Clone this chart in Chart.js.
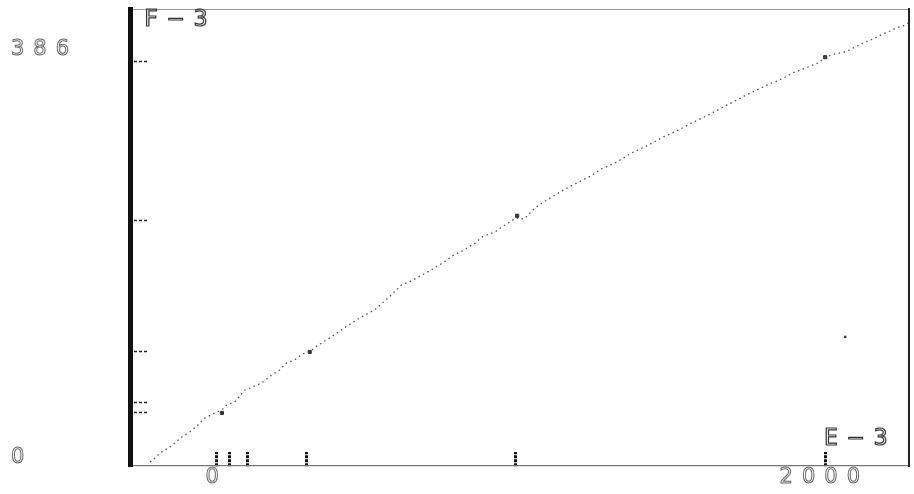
<!DOCTYPE html>
<html>
<head>
<meta charset="utf-8">
<script src="https://cdn.jsdelivr.net/npm/chart.js@4.4.1/dist/chart.umd.min.js"></script>
<style>
  html, body { margin: 0; padding: 0; background: #fff; overflow: hidden; }
  canvas { display: block; }
</style>
</head>
<body>
<canvas id="c" width="914" height="494"></canvas>
<script>
// Calibration curve: measured response against input
const curveX = [-207, -197, -174, -141, -125, -102, -76, -49, -26, 7, 30, 46, 72, 105, 122, 161, 194, 220, 243, 269, 296, 319, 338, 384, 433, 483, 532, 581, 621, 654, 683, 713, 762, 788, 821, 864, 887, 929, 952, 998, 1025, 1061, 1090, 1149, 1179, 1212, 1245, 1278, 1294, 1330, 1379, 1435, 1484, 1534, 1583, 1632, 1681, 1731, 1770, 1813, 1832, 1852, 1885, 1908, 1951, 1994, 2016, 2049, 2082, 2102, 2141, 2174, 2207, 2230, 2250, 2273, 2289];
const curveY = [-1.9, 0, 6.6, 12.3, 16.1, 21.8, 26.5, 33.1, 39.7, 44.5, 47.3, 52.0, 54.9, 66.2, 68.1, 72.8, 80.4, 85.1, 91.8, 94.6, 100.3, 102.2, 106.9, 115.4, 124.9, 134.3, 141.9, 154.2, 165.6, 169.3, 174.1, 178.8, 187.3, 193.0, 197.7, 205.3, 211.0, 215.7, 220.4, 228.9, 228.0, 238.4, 244.1, 254.5, 259.2, 263.9, 268.7, 275.3, 277.2, 281.9, 290.4, 298.0, 305.6, 312.2, 319.7, 326.4, 333.9, 341.5, 347.2, 352.9, 355.7, 357.6, 362.3, 366.1, 370.8, 375.6, 381.2, 384.1, 386.0, 388.8, 394.5, 398.3, 403.0, 405.8, 408.7, 410.6, 413.4];

// Reference points along the curve
const markX = [30, 319, 1002, 2016];
const markY = [44.5, 102.2, 231, 381];

// Isolated reading
const strayX = [2082];
const strayY = [116.4];

// Tick marks on the axes
const xTickMarks = [13, 56, 115, 309, 998, 2016];
const yTickMarks = [376.5, 226.1, 102.2, 53.9, 44.5];

// Axis labels
const xTickValues = [0, 2000];
const xTickLabels = ['0', '2000'];
const yTickValues = [0, 386];
const yTickLabels = ['0', '386'];

// Panel captions
const panelLabels = ['F\u20143', 'E\u20143'];

const toPoints = (xs, ys) => xs.map((v, i) => ({ x: v, y: ys[i] }));

const bgPlugin = {
  id: 'bg',
  beforeDraw(chart) {
    const ctx = chart.ctx;
    ctx.save();
    ctx.fillStyle = '#fff';
    ctx.fillRect(0, 0, chart.width, chart.height);
    ctx.restore();
  }
};

const textPlugin = {
  id: 'outlineText',
  afterDraw(chart) {
    const { ctx } = chart;
    const x = chart.scales.x, y = chart.scales.y;
    ctx.save();
    ctx.font = '21px "DejaVu Sans"';
    ctx.letterSpacing = '9px';
    ctx.strokeStyle = '#666';
    ctx.lineWidth = 1;
    ctx.textBaseline = 'middle';
    ctx.textAlign = 'left';
    yTickValues.forEach((v, i) => ctx.strokeText(yTickLabels[i], 11, y.getPixelForValue(v) - 2));
    ctx.textAlign = 'center';
    xTickValues.forEach((v, i) => ctx.strokeText(xTickLabels[i], x.getPixelForValue(v) + 4, 478));

    ctx.font = '23px "DejaVu Sans Mono"';
    ctx.letterSpacing = '11px';
    ctx.textAlign = 'left';
    ctx.strokeStyle = '#333';
    ctx.lineWidth = 1.2;
    ctx.strokeText(panelLabels[0], 144, 20);
    ctx.strokeText(panelLabels[1], 824, 439);
    ctx.restore();
  }
};

new Chart(document.getElementById('c'), {
  type: 'scatter',
  data: {
    datasets: [
      {
        data: toPoints(curveX, curveY),
        showLine: true,
        borderColor: '#555',
        borderWidth: 1.3,
        borderDash: [1.5, 3.5],
        pointRadius: 0,
        tension: 0
      },
      {
        data: toPoints(markX, markY),
        pointStyle: 'rect',
        pointRadius: 2.2,
        backgroundColor: '#333',
        borderColor: '#333',
        borderWidth: 1
      },
      {
        data: toPoints(strayX, strayY),
        pointRadius: 1.3,
        backgroundColor: '#333',
        borderWidth: 0
      }
    ]
  },
  options: {
    responsive: false,
    animation: false,
    devicePixelRatio: 1,
    layout: { padding: { top: 9, right: 3, left: 0, bottom: 0 } },
    plugins: { legend: { display: false }, tooltip: { enabled: false } },
    scales: {
      x: {
        type: 'linear',
        position: 'bottom',
        min: -272.6,
        max: 2292,
        afterBuildTicks: (s) => { s.ticks = xTickMarks.map(v => ({ value: v })); },
        afterFit: (s) => { s.height = 28; },
        ticks: { display: false, autoSkip: false },
        grid: {
          display: true,
          drawOnChartArea: false,
          drawTicks: true,
          tickLength: -14,
          tickWidth: 3,
          tickColor: '#111',
          tickBorderDash: [3, 1]
        },
        border: { display: true, color: '#777', width: 1.3, dash: [2, 3] }
      },
      xTop: {
        type: 'linear',
        position: 'top',
        min: 0,
        max: 1,
        afterFit: (s) => { s.height = 0; },
        ticks: { display: false },
        grid: { display: false },
        border: { display: true, color: '#999', width: 1, dash: [2, 4] }
      },
      y: {
        type: 'linear',
        position: 'left',
        min: -5.7,
        max: 426.6,
        afterBuildTicks: (s) => { s.ticks = yTickMarks.map(v => ({ value: v })); },
        afterFit: (s) => { s.width = 130; },
        ticks: { display: false, autoSkip: false },
        grid: {
          display: true,
          drawOnChartArea: false,
          drawTicks: true,
          tickLength: -17,
          tickWidth: 1.5,
          tickColor: '#222',
          tickBorderDash: [3, 2]
        },
        border: { display: true, color: '#111', width: 5, dash: [7, 2] }
      },
      yRight: {
        type: 'linear',
        position: 'right',
        min: 0,
        max: 1,
        afterFit: (s) => { s.width = 0; },
        ticks: { display: false },
        grid: { display: false },
        border: { display: true, color: '#222', width: 2, dash: [5, 3] }
      }
    }
  },
  plugins: [bgPlugin, textPlugin]
});
</script>
</body>
</html>
